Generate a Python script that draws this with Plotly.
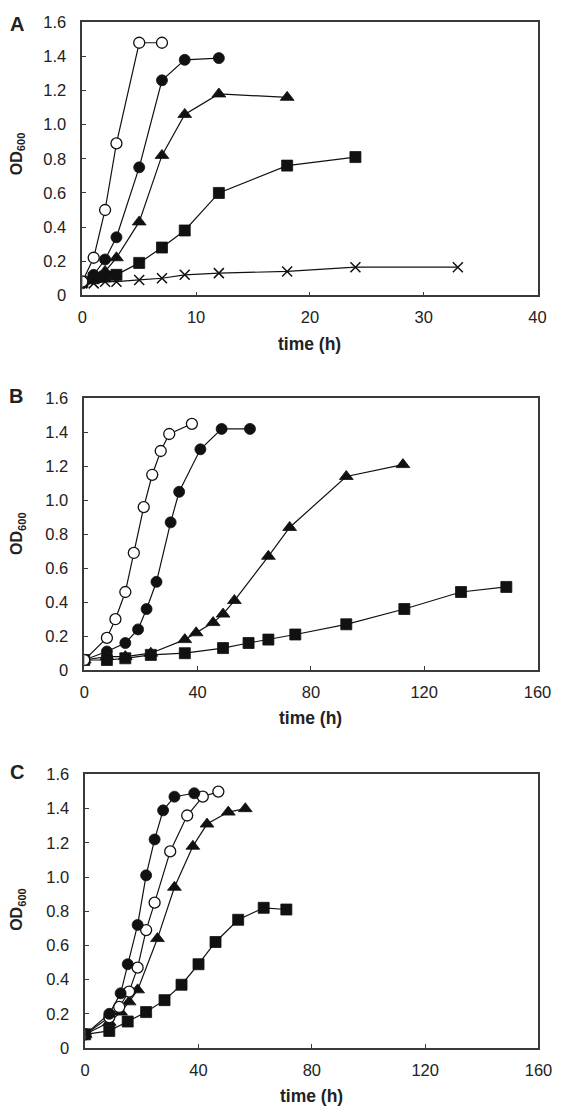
import plotly.graph_objects as go

# ---------------- Data ----------------
# Panel A
a_open_t = [0, 1, 2, 3, 5, 7]
a_open_od = [0.08, 0.22, 0.50, 0.89, 1.48, 1.48]
a_fcirc_t = [0, 1, 2, 3, 5, 7, 9, 12]
a_fcirc_od = [0.07, 0.12, 0.21, 0.34, 0.75, 1.26, 1.38, 1.39]
a_tri_t = [0, 1, 2, 3, 5, 7, 9, 12, 18]
a_tri_od = [0.08, 0.11, 0.14, 0.22, 0.43, 0.82, 1.06, 1.18, 1.16]
a_sq_t = [0, 1, 2, 3, 5, 7, 9, 12, 18, 24]
a_sq_od = [0.08, 0.10, 0.11, 0.12, 0.19, 0.28, 0.38, 0.60, 0.76, 0.81]
a_x_t = [0, 1, 2, 3, 5, 7, 9, 12, 18, 24, 33]
a_x_od = [0.07, 0.07, 0.08, 0.08, 0.09, 0.10, 0.12, 0.13, 0.14, 0.165, 0.165]

# Panel B
b_open_t = [0, 8, 11, 14.5, 17.5, 21, 24, 27, 30, 38]
b_open_od = [0.06, 0.19, 0.30, 0.46, 0.69, 0.96, 1.15, 1.29, 1.39, 1.45]
b_fcirc_t = [0, 8, 14.5, 19, 22, 25.5, 30.5, 33.5, 41, 48.5, 58.5]
b_fcirc_od = [0.06, 0.11, 0.16, 0.24, 0.36, 0.52, 0.87, 1.05, 1.30, 1.42, 1.42]
b_tri_t = [0, 8, 14.5, 23.5, 35.5, 39.5, 45.5, 49, 53, 65, 72.5, 92.5, 112.5]
b_tri_od = [0.06, 0.08, 0.08, 0.10, 0.18, 0.22, 0.28, 0.33, 0.41, 0.67, 0.84, 1.14, 1.21]
b_sq_t = [0, 8, 14.5, 23.5, 35.5, 49, 58, 65, 74.5, 92.5, 113, 133, 149]
b_sq_od = [0.06, 0.06, 0.07, 0.09, 0.10, 0.13, 0.16, 0.18, 0.21, 0.27, 0.36, 0.46, 0.49]

# Panel C
c_fcirc_t = [0, 8.5, 12.5, 15, 18.5, 21.5, 24.5, 27.5, 31.5, 38.5]
c_fcirc_od = [0.08, 0.20, 0.32, 0.49, 0.72, 1.01, 1.22, 1.39, 1.47, 1.49]
c_open_t = [0, 8.5, 12, 15.5, 18.5, 21.5, 24.5, 30, 36, 41.5, 47]
c_open_od = [0.08, 0.18, 0.24, 0.33, 0.47, 0.69, 0.85, 1.15, 1.36, 1.47, 1.50]
c_tri_t = [0, 8.5, 12.5, 15.5, 18.5, 25.5, 31.5, 38, 43, 50.5, 56.5]
c_tri_od = [0.08, 0.15, 0.21, 0.27, 0.34, 0.64, 0.94, 1.18, 1.31, 1.38, 1.40]
c_sq_t = [0, 8.5, 15, 21.5, 28, 34, 40, 46, 54, 63, 71]
c_sq_od = [0.08, 0.10, 0.155, 0.21, 0.28, 0.37, 0.49, 0.62, 0.75, 0.82, 0.81]

# Axis ticks
y_tickvals = [0, 0.2, 0.4, 0.6, 0.8, 1.0, 1.2, 1.4, 1.6]
y_ticktext = ["0", "0.2", "0.4", "0.6", "0.8", "1.0", "1.2", "1.4", "1.6"]
a_xticks = [0, 10, 20, 30, 40]
bc_xticks = [0, 40, 80, 120, 160]
panel_labels = ["A", "B", "C"]

# ---------------- Figure ----------------
W, H = 566, 1118
FONT = "Liberation Sans, Arial, sans-serif"
LINE = dict(color="#111111", width=1.2)

fig = go.Figure()


def add(t, od, ax, symbol, size, fill="#111111", lw=0.8, lcolor="#111111"):
    xa = "x" if ax == 1 else f"x{ax}"
    ya = "y" if ax == 1 else f"y{ax}"
    fig.add_trace(go.Scatter(
        x=t, y=od, xaxis=xa, yaxis=ya, mode="lines+markers",
        line=LINE,
        marker=dict(symbol=symbol, size=size, color=fill,
                    line=dict(color=lcolor, width=lw)),
        showlegend=False, hoverinfo="skip"))


# Panel A
add(a_x_t, a_x_od, 1, "x-thin-open", 10, lw=1.5)
add(a_sq_t, a_sq_od, 1, "square", 11)
add(a_tri_t, a_tri_od, 1, "triangle-up", 12)
add(a_fcirc_t, a_fcirc_od, 1, "circle", 11)
add(a_open_t, a_open_od, 1, "circle", 11, fill="white", lw=1.3)
# Panel B
add(b_sq_t, b_sq_od, 2, "square", 11)
add(b_tri_t, b_tri_od, 2, "triangle-up", 12)
add(b_fcirc_t, b_fcirc_od, 2, "circle", 11)
add(b_open_t, b_open_od, 2, "circle", 11, fill="white", lw=1.3)
# Panel C
add(c_sq_t, c_sq_od, 3, "square", 11)
add(c_tri_t, c_tri_od, 3, "triangle-up", 12)
add(c_open_t, c_open_od, 3, "circle", 11, fill="white", lw=1.3)
add(c_fcirc_t, c_fcirc_od, 3, "circle", 11)

# Pixel frames: (left, right, top, bottom)
frames = [(80, 551, 13.5, 291), (82, 551, 395.7, 672), (83, 552, 778, 1056)]
xranges = [[0, 40], [0, 160], [0, 160]]
xticks = [a_xticks, bc_xticks, bc_xticks]

axis_common = dict(
    showline=True, linecolor="#3a3a3a", linewidth=1.5, mirror=True,
    ticks="inside", ticklen=4, tickwidth=1.2, tickcolor="#3a3a3a",
    showgrid=False, zeroline=False,
    tickfont=dict(family=FONT, size=16.5, color="#222222"),
)

for i, (l, r, t, b) in enumerate(frames):
    suffix = "" if i == 0 else str(i + 1)
    fig.layout["xaxis" + suffix] = dict(
        domain=[l / W, r / W], anchor="y" + suffix, range=xranges[i],
        tickvals=xticks[i], ticktext=[str(v) for v in xticks[i]],
        ticklabelstandoff=6, **axis_common)
    fig.layout["yaxis" + suffix] = dict(
        domain=[1 - b / H, 1 - t / H], anchor="x" + suffix, range=[0, 1.6],
        tickvals=y_tickvals, ticktext=y_ticktext,
        ticklabelstandoff=11, **axis_common)

annotations = []
ylab_centers = [147, 533, 915]
letter_pos = [(12, 15), (11, 393), (12, 775)]
for i, (l, r, t, b) in enumerate(frames):
    # y-axis title
    annotations.append(dict(
        x=13 / W, y=1 - ylab_centers[i] / H, xref="paper", yref="paper",
        text="<b>OD<sub>600</sub></b>", textangle=-90, showarrow=False,
        xanchor="center", yanchor="middle",
        font=dict(family=FONT, size=16, color="#222222")))
    # x-axis title
    annotations.append(dict(
        x=((l + r) / 2) / W, y=1 - (b + 49) / H, xref="paper", yref="paper",
        text="<b>time (h)</b>", showarrow=False,
        xanchor="center", yanchor="middle",
        font=dict(family=FONT, size=17.5, color="#222222")))
    # panel letter
    lx, ly = letter_pos[i]
    annotations.append(dict(
        x=lx / W, y=1 - ly / H, xref="paper", yref="paper",
        text="<b>" + panel_labels[i] + "</b>", showarrow=False,
        xanchor="center", yanchor="middle",
        font=dict(family=FONT, size=20, color="#222222")))

fig.update_layout(
    width=W, height=H, margin=dict(l=0, r=0, t=0, b=0),
    paper_bgcolor="white", plot_bgcolor="white",
    annotations=annotations, showlegend=False,
)

fig.write_html("out.html", config={"displayModeBar": False},
               post_script="document.body.style.margin='0';document.body.style.overflow='hidden';")
